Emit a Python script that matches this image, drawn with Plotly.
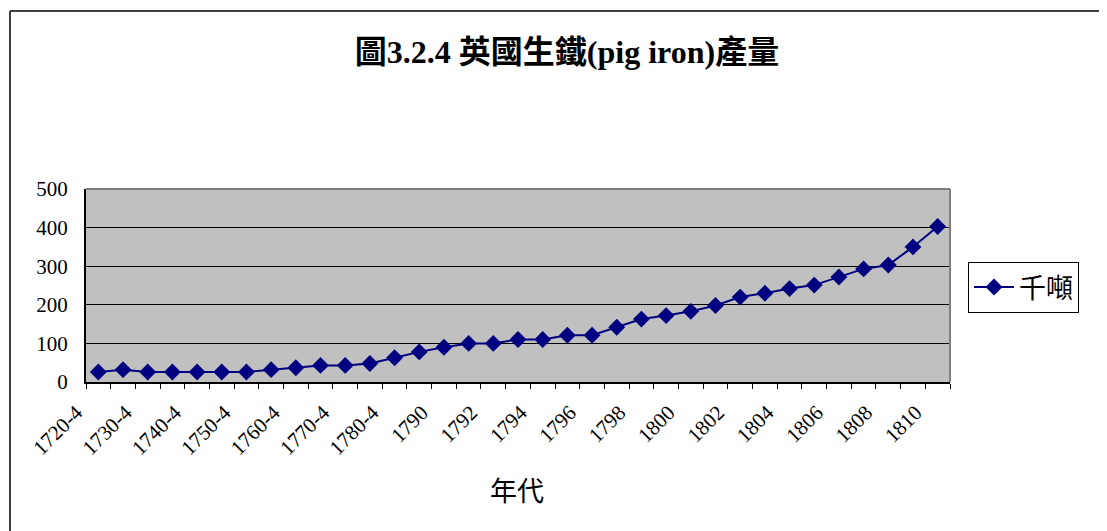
import plotly.graph_objects as go

categories = ["1720-4", "1725-9", "1730-4", "1735-9", "1740-4", "1745-9", "1750-4",
              "1755-9", "1760-4", "1765-9", "1770-4", "1775-9", "1780-4", "1785-9",
              "1790", "1791", "1792", "1793", "1794", "1795", "1796", "1797", "1798",
              "1799", "1800", "1801", "1802", "1803", "1804", "1805", "1806", "1807",
              "1808", "1809", "1810"]
values = [26, 32, 26, 26, 26, 26, 26, 32, 37, 43, 43, 48, 63, 78, 90, 100, 100,
          110, 110, 121, 121, 142, 163, 172, 183, 198, 220, 230, 242, 251, 272,
          293, 303, 350, 403]
tick_labels = [c if i % 2 == 0 else "" for i, c in enumerate(categories)]

series_name = "千噸"
title_text = "圖3.2.4 英國生鐵(pig iron)產量"
x_title = "年代"

FONT = "Liberation Serif, 'Noto Sans CJK TC', serif"

fig = go.Figure()
fig.add_trace(go.Scatter(
    x=categories, y=values, mode="lines+markers", name=series_name,
    line=dict(color="#000080", width=2),
    marker=dict(symbol="diamond", size=13, color="#000080"),
))

OFF = 8  # page body margin
W, H = 1107 - OFF, 531 - OFF
L, R, T, B = 86 - OFF, 950 - OFF, 189 - OFF, 382 - OFF
pw, ph = R - L, B - T

fig.update_layout(
    width=W, height=H,
    margin=dict(l=L, r=W - R, t=T, b=H - B),
    paper_bgcolor="white", plot_bgcolor="#C0C0C0",
    font=dict(family=FONT, color="black"),
    title=dict(text="<b>" + title_text + "</b>", x=(567 - OFF) / W, xanchor="center",
               y=1 - (52 - OFF) / H, yanchor="middle",
               font=dict(size=32, family=FONT, color="black")),
    showlegend=True,
    legend=dict(x=(968 - OFF - L) / pw, xanchor="left",
                y=(B - (262 - OFF)) / ph, yanchor="top",
                bordercolor="black", borderwidth=1, bgcolor="white",
                font=dict(size=27, family=FONT, color="black"),
                itemwidth=40),
    xaxis=dict(type="category", categoryorder="array", categoryarray=categories,
               range=[-0.5, len(categories) - 0.5],
               tickmode="array", tickvals=categories, ticktext=tick_labels,
               tickangle=-45, tickson="boundaries", ticks="outside", ticklen=5,
               ticklabelshift=-22, ticklabelstandoff=8,
               tickcolor="black", tickfont=dict(size=21, family=FONT, color="black"),
               showline=True, linecolor="black", linewidth=2, showgrid=False,
               zeroline=False),
    yaxis=dict(range=[0, 500], dtick=100, tick0=0, showgrid=True,
               gridcolor="black", gridwidth=1, zeroline=False,
               showline=True, linecolor="black", linewidth=2,
               ticks="", ticklabelstandoff=12,
               tickfont=dict(size=21, family=FONT, color="black")),
    annotations=[dict(text=x_title, xref="paper", yref="paper",
                      x=(517 - OFF - L) / pw, y=(B - (492 - OFF)) / ph,
                      xanchor="center", yanchor="middle", showarrow=False,
                      font=dict(size=27, family=FONT, color="black"))],
    shapes=[
        dict(type="line", xref="paper", yref="paper", x0=0, x1=1, y0=1, y1=1,
             line=dict(color="#808080", width=2), layer="above"),
        dict(type="line", xref="paper", yref="paper", x0=1, x1=1, y0=0, y1=1,
             line=dict(color="#808080", width=2), layer="above"),
        dict(type="line", xref="paper", yref="paper",
             x0=(10 - OFF - L) / pw, x1=(1130 - L) / pw,
             y0=(B - (11 - OFF)) / ph, y1=(B - (11 - OFF)) / ph,
             line=dict(color="#404040", width=2)),
        dict(type="line", xref="paper", yref="paper",
             x0=(10 - OFF - L) / pw, x1=(10 - OFF - L) / pw,
             y0=(B - (11 - OFF)) / ph, y1=(B - 560) / ph,
             line=dict(color="#404040", width=2)),
    ],
)

fig.write_html("out.html")
